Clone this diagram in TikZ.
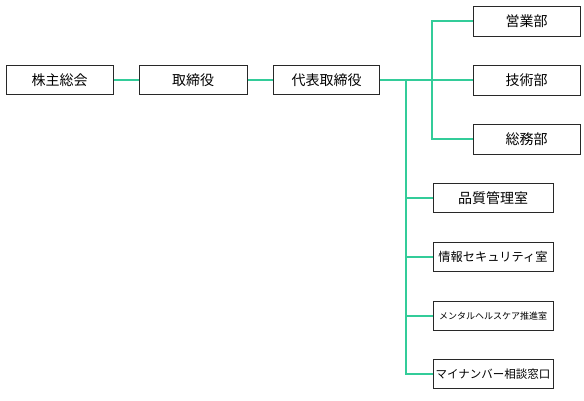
\documentclass[tikz,border=0pt]{standalone}
\usepackage{fontspec}
\setmainfont{Noto Sans CJK JP}
\definecolor{linkc}{RGB}{51,204,153}
\definecolor{boxc}{RGB}{40,40,40}
\begin{document}
\begin{tikzpicture}[x=1pt,y=-1pt,
  box/.style={draw=boxc,line width=1pt,fill=white,inner sep=0pt,font=\fontsize{14}{15}\selectfont},
  link/.style={draw=linkc,line width=1.5pt}]
\useasboundingbox (0,0) rectangle (584,400);
% left chain
\node[box,minimum width=107,minimum height=29] (kabu) at (59.5,80) {株主総会};
\node[box,minimum width=108,minimum height=29] (tori) at (193,80) {取締役};
\node[box,minimum width=106,minimum height=29] (dai) at (326.5,80) {代表取締役};
% right upper
\node[box,minimum width=107,minimum height=30] (eig) at (526.5,21) {営業部};
\node[box,minimum width=107,minimum height=30] (gij) at (526.5,80) {技術部};
\node[box,minimum width=107,minimum height=30] (som) at (526.5,139) {総務部};
% right lower
\node[box,minimum width=120,minimum height=29] (hin) at (493,198) {品質管理室};
\node[box,minimum width=120,minimum height=29,font=\fontsize{12.2}{13}\selectfont] (jou) at (493,257) {情報セキュリティ室};
\node[box,minimum width=120,minimum height=29,font=\fontsize{9}{10}\selectfont] (men) at (493,316) {メンタルヘルスケア推進室};
\node[box,minimum width=120,minimum height=29,font=\fontsize{11.5}{12}\selectfont] (mai) at (493,374) {マイナンバー相談窓口};
% junctions
\coordinate (j1) at (406,80);
\coordinate (j2) at (432,80);
% connectors
\draw[link] (kabu.east) -- (tori.west);
\draw[link] (tori.east) -- (dai.west);
\draw[link] (dai.east) -- (gij.west);
\draw[link] (eig.west) -- (eig.west -| j2) -- (som.west -| j2) -- (som.west);
\draw[link] (j1) -- (mai.west -| j1) -- (mai.west);
\draw[link] (hin.west -| j1) -- (hin.west);
\draw[link] (jou.west -| j1) -- (jou.west);
\draw[link] (men.west -| j1) -- (men.west);
\end{tikzpicture}
\end{document}
